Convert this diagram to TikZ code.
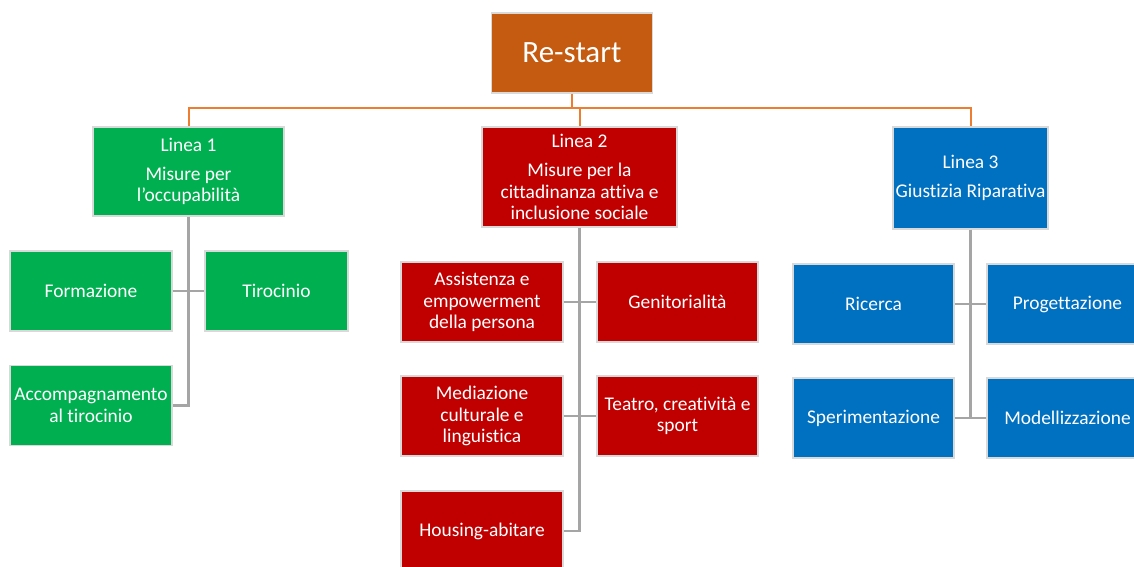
\documentclass[tikz,border=0pt]{standalone}
\usepackage{fontspec}
\setmainfont[RawFeature={-liga;-dlig;-clig}]{Carlito}
\definecolor{cOrange}{HTML}{C55A11}
\definecolor{cOrLine}{HTML}{ED7D31}
\definecolor{cGreen}{HTML}{00B050}
\definecolor{cRed}{HTML}{C00000}
\definecolor{cBlue}{HTML}{0070C0}
\definecolor{cGray}{HTML}{A5A5A5}
\definecolor{cEdge}{HTML}{D9D9D9}
\tikzset{
  box/.style={draw=cEdge, line width=1.2pt, text=white, align=center, inner sep=0pt,
    font=\fontsize{19.4}{21.5}\selectfont},
  child/.style={box, minimum width=162pt, minimum height=80pt},
  gbox/.style={child, fill=cGreen},
  rbox/.style={child, fill=cRed},
  bbox/.style={child, fill=cBlue},
  topline/.style={draw=cOrLine, line width=2pt},
  subline/.style={draw=cGray, line width=2.2pt},
}
\begin{document}
\begin{tikzpicture}[x=1pt,y=-1pt]
\useasboundingbox[fill=white] (0,0) rectangle (1134,566);
% root
\node[box, fill=cOrange, minimum width=161pt, minimum height=80pt,
      font=\fontsize{31}{36}\selectfont] (root) at (572,53) {Re-start};
% level 1
\node[box, fill=cGreen, minimum width=191pt, minimum height=89pt] (l1) at (188.5,171.5)
  {Linea 1\\[7pt]Misure per\\l’occupabilità};
\node[box, fill=cRed, minimum width=195pt, minimum height=100pt] (l2) at (579.5,177)
  {Linea 2\\[8pt]Misure per la\\cittadinanza attiva e\\inclusione sociale};
\node[box, fill=cBlue, minimum width=155pt, minimum height=102pt] (l3) at (970.5,178)
  {Linea 3\\[8pt]Giustizia Riparativa};
% green children
\node[gbox] (form) at (91,291) {Formazione};
\node[gbox, minimum width=143pt] (tir) at (276.5,291) {Tirocinio};
\node[gbox] (acc) at (91,405.5) {Accompagnamento\\al tirocinio};
% red children
\node[rbox] (ass) at (482,302) {Assistenza e\\empowerment\\della persona};
\node[rbox, minimum width=161pt] (gen) at (677.5,302) {Genitorialità};
\node[rbox] (med) at (482,416) {Mediazione\\culturale e\\linguistica};
\node[rbox, minimum width=161pt] (tea) at (677.5,416) {Teatro, creatività e\\sport};
\node[rbox] (hou) at (482,531) {Housing-abitare};
% blue children
\node[bbox, minimum width=161pt] (ric) at (873.5,304) {Ricerca};
\node[bbox, minimum width=161pt] (pro) at (1067.5,304) {Progettazione};
\node[bbox, minimum width=161pt] (spe) at (873.5,418) {Sperimentazione};
\node[bbox, minimum width=161pt] (mod) at (1067.5,418) {Modellizzazione};
% orange connectors
\coordinate (bus) at (0,108);
\draw[topline] (root.south) -- (root.south |- bus);
\draw[topline] (l1.north) -- (l1.north |- bus) -| (l3.north);
\draw[topline] (l2.north) -- (l2.north |- bus);
% gray connectors
\draw[subline] (l1.south) |- (acc.east);
\draw[subline] (form.east) -- (tir.west);
\draw[subline] (l2.south) |- (hou.east);
\draw[subline] (ass.east) -- (gen.west);
\draw[subline] (med.east) -- (tea.west);
\draw[subline] (l3.south) |- (spe.east);
\draw[subline] (spe.east) -- (mod.west);
\draw[subline] (ric.east) -- (pro.west);
\end{tikzpicture}
\end{document}
